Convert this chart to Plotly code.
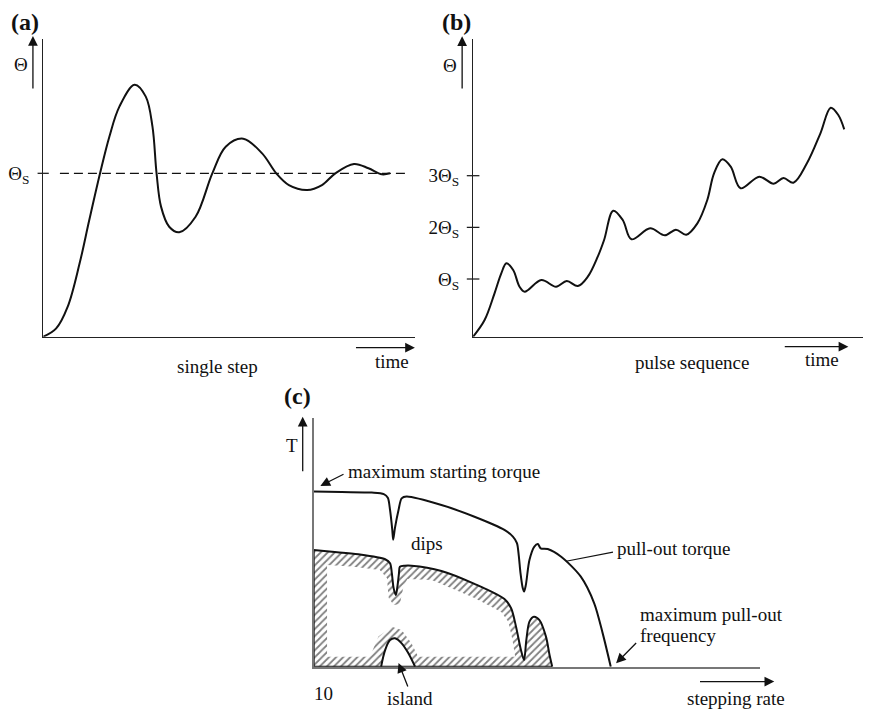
import plotly.graph_objects as go

FONT = "Liberation Serif"
TXT = 19
W, H = 871, 710

# ---------------- Panel (a): single step response ----------------
a_time = [0, 0.35, 0.66, 0.98, 1.24, 1.53, 1.78, 2.05, 2.46, 2.76, 2.94, 3.05, 3.17,
          3.39, 3.66, 4.10, 4.55, 4.91, 5.38, 5.89, 6.27, 6.61, 7.10, 7.50, 7.86,
          8.36, 8.75, 9.11, 9.33]
a_theta = [0, 0.051, 0.184, 0.449, 0.714, 1.0, 1.224, 1.408, 1.542, 1.469, 1.285,
           1.0, 0.796, 0.673, 0.639, 0.734, 1.0, 1.163, 1.212, 1.122, 1.0, 0.928,
           0.898, 0.928, 1.0, 1.057, 1.031, 0.994, 1.0]
a_theta_s = 1.0
a_dash_span = [0.45, 9.78]

# ---------------- Panel (b): pulse sequence ----------------
b_time = [0, 0.29, 0.54, 0.71, 0.84, 1.01, 1.17, 1.30, 1.72, 2.09, 2.36, 2.64, 2.89,
          3.14, 3.30, 3.53, 3.77, 3.99, 4.46, 4.83, 5.11, 5.37, 5.65, 5.90, 6.07,
          6.28, 6.49, 6.74, 7.21, 7.57, 7.82, 8.07, 8.41, 8.75, 9.01, 9.20, 9.35]
b_theta = [-0.117, 0.206, 0.723, 1.110, 1.304, 1.174, 0.851, 0.754, 0.981, 0.851,
           0.961, 0.864, 1.045, 1.432, 1.755, 2.322, 2.142, 1.769, 1.982, 1.846,
           1.955, 1.858, 2.078, 2.530, 3.046, 3.317, 3.174, 2.756, 2.981, 2.845,
           2.955, 2.864, 3.240, 3.821, 4.317, 4.175, 3.898]
b_levels = [1, 2, 3]
b_level_labels = ["Θ<sub>S</sub>", "2Θ<sub>S</sub>", "3Θ<sub>S</sub>"]

# ---------------- Panel (c): torque vs stepping rate ----------------
pullout_rate = [0, 0.63, 1.30, 1.57, 1.66, 1.71, 1.76, 1.78, 1.82, 1.90, 1.97, 2.08,
                2.86, 3.60, 4.27, 4.46, 4.55, 4.59, 4.63, 4.68, 4.71, 4.75, 4.83,
                4.94, 5.02, 5.08, 5.24, 5.54, 5.98, 6.28, 6.47, 6.65]
pullout_torque = [7.04, 7.02, 7.00, 6.94, 6.79, 6.30, 5.50, 5.10, 5.58, 6.30, 6.77,
                  6.84, 6.50, 6.03, 5.50, 5.23, 4.97, 4.49, 3.76, 3.16, 3.02, 3.29,
                  4.29, 4.83, 4.93, 4.76, 4.73, 4.42, 3.62, 2.55, 1.34, 0]
pullin_rate = [0, 0.41, 1.00, 1.60, 1.71, 1.75, 1.79, 1.84, 1.88, 1.91, 1.93, 2.04,
               2.19, 2.86, 3.60, 4.27, 4.42, 4.53, 4.64, 4.71, 4.76, 4.83, 4.93,
               5.05, 5.20, 5.28, 5.34]
pullin_torque = [4.69, 4.62, 4.52, 4.32, 4.16, 3.76, 3.16, 2.88, 3.29, 3.76, 4.02,
                 4.06, 4.06, 3.85, 3.33, 2.72, 2.35, 1.61, 0.67, 0.27, 1.07, 1.81,
                 2.01, 1.88, 1.21, 0.47, 0]
island_rate = [1.51, 1.60, 1.71, 1.82, 1.97, 2.12, 2.27]
island_torque = [0, 0.67, 1.07, 1.14, 0.94, 0.54, 0]
hatch_inner_rate = [0.30, 0.30, 0.85, 1.48, 1.64, 1.68, 1.79, 1.93, 2.01, 2.10, 2.64,
                    2.86, 3.60, 4.20, 4.36, 4.45, 4.51, 2.34, 2.19, 1.97, 1.75, 1.45,
                    1.26]
hatch_inner_torque = [0.40, 4.09, 4.03, 3.89, 3.57, 2.76, 2.48, 2.52, 3.21, 3.53,
                      3.49, 3.33, 2.76, 2.20, 1.80, 1.07, 0.40, 0.40, 0.94, 1.48,
                      1.61, 1.21, 0.40]

# axis placement (domain, range) per panel
AXES = {
    1: dict(xd=[0.03708, 0.46533], yd=[0.53704, 0.95592], xr=[0, 10], yr=[0, 1.82]),
    2: dict(xd=[0.53237, 0.98967], yd=[0.53704, 0.95592], xr=[0, 10], yr=[-0.117, 5.641]),
    3: dict(xd=[0.34868, 0.86338], yd=[0.07225, 0.42254], xr=[0, 10], yr=[0, 10]),
}

def to_paper(k, x, y):
    a = AXES[k]
    px = a["xd"][0] + (x - a["xr"][0]) / (a["xr"][1] - a["xr"][0]) * (a["xd"][1] - a["xd"][0])
    py = a["yd"][0] + (y - a["yr"][0]) / (a["yr"][1] - a["yr"][0]) * (a["yd"][1] - a["yd"][0])
    return px, py

fig = go.Figure()

# ---- (a) traces
fig.add_trace(go.Scatter(x=a_dash_span, y=[a_theta_s, a_theta_s], mode="lines",
                         line=dict(color="#111", width=1.2, dash="9px,5px"),
                         xaxis="x", yaxis="y", hoverinfo="skip"))
fig.add_trace(go.Scatter(x=[0], y=[a_theta_s], mode="markers",
                         marker=dict(symbol="line-ew", size=8, line=dict(color="#111", width=1.2)),
                         xaxis="x", yaxis="y", cliponaxis=False, hoverinfo="skip"))
fig.add_trace(go.Scatter(x=a_time, y=a_theta, mode="lines",
                         line=dict(color="#111", width=2, shape="spline", smoothing=1),
                         xaxis="x", yaxis="y"))

# ---- (b) traces
fig.add_trace(go.Scatter(x=[0] * len(b_levels), y=b_levels, mode="markers",
                         marker=dict(symbol="line-ew", size=9, line=dict(color="#111", width=1.2)),
                         xaxis="x2", yaxis="y2", cliponaxis=False, hoverinfo="skip"))
fig.add_trace(go.Scatter(x=b_time, y=b_theta, mode="lines",
                         line=dict(color="#111", width=2, shape="spline", smoothing=1),
                         xaxis="x2", yaxis="y2"))

# ---- (c) traces
x0 = pullin_rate[0]
outer = ([(x0, 0)] + list(zip(pullin_rate, pullin_torque))
         + list(zip(island_rate[::-1], island_torque[::-1])) + [(x0, 0)])
inner = list(zip(hatch_inner_rate, hatch_inner_torque))
poly = outer + [inner[0]] + inner[:0:-1] + [inner[0], (x0, 0)]
fig.add_trace(go.Scatter(x=[p[0] for p in poly], y=[p[1] for p in poly], mode="lines",
                         fill="toself", line=dict(width=0, color="rgba(0,0,0,0)"),
                         fillpattern=dict(shape="/", size=5, solidity=0.35,
                                          fgcolor="#000", bgcolor="white"),
                         xaxis="x3", yaxis="y3", hoverinfo="skip"))
fig.add_trace(go.Scatter(x=[pullin_rate[0], pullin_rate[0], pullin_rate[-1]],
                         y=[pullin_torque[0], 0, 0], mode="lines",
                         line=dict(color="#111", width=2),
                         xaxis="x3", yaxis="y3", cliponaxis=False, hoverinfo="skip"))
fig.add_trace(go.Scatter(x=pullin_rate, y=pullin_torque, mode="lines",
                         line=dict(color="#111", width=2, shape="spline", smoothing=0.8),
                         xaxis="x3", yaxis="y3"))
fig.add_trace(go.Scatter(x=island_rate, y=island_torque, mode="lines",
                         line=dict(color="#111", width=2, shape="spline", smoothing=1),
                         xaxis="x3", yaxis="y3"))
fig.add_trace(go.Scatter(x=pullout_rate, y=pullout_torque, mode="lines",
                         line=dict(color="#111", width=2, shape="spline", smoothing=0.8),
                         xaxis="x3", yaxis="y3"))

ax_common = dict(showgrid=False, zeroline=False, showline=True, ticks="",
                 fixedrange=True)

def xax(k, anchor, color="#222", width=1.2):
    return dict(domain=AXES[k]["xd"], anchor=anchor, range=AXES[k]["xr"],
                showticklabels=False, linecolor=color, linewidth=width, **ax_common)

fig.update_layout(
    width=W, height=H, margin=dict(l=0, r=0, t=0, b=0),
    paper_bgcolor="white", plot_bgcolor="white", showlegend=False,
    font=dict(family=FONT, size=TXT, color="#111"),
    xaxis=xax(1, "y"),
    yaxis=dict(domain=AXES[1]["yd"], anchor="x", range=AXES[1]["yr"],
               tickvals=[a_theta_s], ticktext=["Θ<sub>S</sub>"], ticklabelstandoff=9,
               tickfont=dict(family=FONT, size=TXT, color="#111"),
               linecolor="#222", linewidth=1.2, **ax_common),
    xaxis2=xax(2, "y2"),
    yaxis2=dict(domain=AXES[2]["yd"], anchor="x2", range=AXES[2]["yr"],
                tickvals=b_levels, ticktext=b_level_labels, ticklabelstandoff=9,
                tickfont=dict(family=FONT, size=TXT, color="#111"),
                linecolor="#222", linewidth=1.2, **ax_common),
    xaxis3=xax(3, "y3", color="#777", width=1.8),
    yaxis3=dict(domain=AXES[3]["yd"], anchor="x3", range=AXES[3]["yr"],
                showticklabels=False, linecolor="#777", linewidth=1.8, **ax_common),
)

anns = []

def text(t, k, x, y, xanchor="center", size=TXT, bold=False, yanchor="middle"):
    px, py = to_paper(k, x, y)
    if yanchor == "top":
        py = min(py, 1.0)
    anns.append(dict(text=f"<b>{t}</b>" if bold else t, x=px, y=py,
                     xref="paper", yref="paper", showarrow=False, borderpad=0,
                     xanchor=xanchor, yanchor=yanchor,
                     font=dict(family=FONT, size=size, color="#111")))

def arrow(k, xh, yh, xt, yt, head=2, width=1.3, size=1.5):
    hx, hy = to_paper(k, xh, yh)
    tx, ty = to_paper(k, xt, yt)
    anns.append(dict(text="", x=hx, y=hy, xref="paper", yref="paper",
                     ax=(tx - hx) * W, ay=-(ty - hy) * H, axref="pixel", ayref="pixel",
                     showarrow=True, arrowhead=head, arrowwidth=width,
                     arrowsize=size, arrowcolor="#111", standoff=0, startstandoff=0))

# (a)
text("(a)", 1, -0.50, 2.5, size=24, bold=True, yanchor="top")
text("Θ", 1, -0.59, 1.663)
arrow(1, -0.276, 1.840, -0.276, 1.510)
arrow(1, 10.0, -0.067, 8.38, -0.067)
text("time", 1, 9.38, -0.153)
text("single step", 1, 4.68, -0.184)

# (b)
text("(b)", 2, -0.42, 8.0, size=24, bold=True, yanchor="top")
text("Θ", 2, -0.57, 5.14)
arrow(2, -0.276, 5.70, -0.276, 4.66)
arrow(2, 9.455, -0.311, 7.82, -0.311)
text("time", 2, 8.79, -0.568)
text("pulse sequence", 2, 5.52, -0.607)

# (c)
text("(c)", 3, -0.37, 10.88, size=24, bold=True)
text("T", 3, -0.48, 8.91)
arrow(3, -0.245, 10.05, -0.245, 7.80)
text("maximum starting torque", 3, 0.74, 7.84, xanchor="left")
arrow(3, 0.15, 7.27, 0.70, 7.77)
text("dips", 3, 2.545, 4.96)
text("pull-out torque", 3, 6.77, 4.76, xanchor="left")
arrow(3, 5.65, 4.24, 6.73, 4.62, head=0, width=1.1)
text("maximum pull-out", 3, 7.28, 2.08, xanchor="left")
text("frequency", 3, 7.28, 1.27, xanchor="left")
arrow(3, 6.77, 0.14, 7.25, 1.01)
text("island", 3, 2.15, -1.26)
arrow(3, 1.90, 0.15, 2.12, -0.86)
text("10", 3, 0.21, -1.06)
arrow(3, 10.31, -0.60, 8.62, -0.60)
text("stepping rate", 3, 8.33, -1.26, xanchor="left")

fig.update_layout(annotations=anns)
fig.write_html("out.html")
